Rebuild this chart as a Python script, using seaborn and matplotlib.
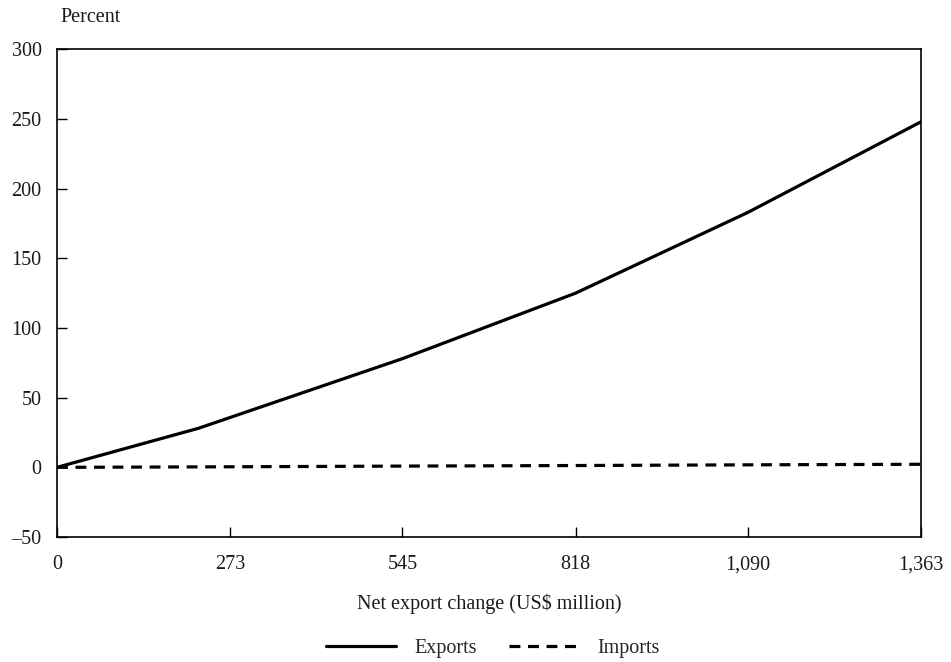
import matplotlib
matplotlib.use("Agg")
import matplotlib.pyplot as plt
import seaborn as sns
import pandas as pd
from matplotlib.lines import Line2D

sns.set_theme(style="white")
plt.rcParams['font.family'] = ['Liberation Serif', 'DejaVu Serif']

# Data
export_x = [0, 223, 545, 818, 1090, 1363]
export_y = [0, 28, 78, 125, 183, 248]
import_x = [0, 273, 545, 818, 1090, 1363]
import_y = [0, 0.4, 0.9, 1.3, 1.8, 2.2]
x_ticks = [0, 273, 545, 818, 1090, 1363]
x_ticklabels = ["0", "273", "545", "818", "1,090", "1,363"]
y_ticks = [-50, 0, 50, 100, 150, 200, 250, 300]
y_ticklabels = ["\u201350", "0", "50", "100", "150", "200", "250", "300"]

df = pd.concat([
    pd.DataFrame({"x": export_x, "y": export_y, "series": "Exports"}),
    pd.DataFrame({"x": import_x, "y": import_y, "series": "Imports"}),
])

fig = plt.figure(figsize=(9.51, 6.62), dpi=100)
ax = fig.add_axes([0.0599, 0.1888, 0.9086, 0.7367])

sns.lineplot(data=df, x="x", y="y", style="series", ax=ax, color="black",
             linewidth=2.3, dashes={"Exports": "", "Imports": (3.4, 2.4)},
             legend=False, sort=False)

ax.set_xlim(0, 1363)
ax.set_ylim(-50, 300)
ax.set_xticks(x_ticks)
ax.set_xticklabels(x_ticklabels)
ax.set_yticks(y_ticks)
ax.set_yticklabels(y_ticklabels)
ax.tick_params(axis="both", which="major", bottom=True, left=True, top=False, right=False,
               direction="in", length=7, width=1, color="black",
               labelsize=14.5, labelcolor="#1a1a1a")
ax.tick_params(axis="x", pad=13)
ax.tick_params(axis="y", pad=11)
for s in ax.spines.values():
    s.set_visible(True)
    s.set_color("black")
    s.set_linewidth(1.2)
ax.set_xlabel("Net export change (US$ million)", fontsize=14.5, labelpad=14, color="#1a1a1a")
ax.set_ylabel("")
ax.grid(False)

fig.text(60 / 951, 1 - 18 / 662, "Percent", fontsize=14.5, ha="left", va="center", color="#1a1a1a")

handles = [Line2D([], [], color="black", lw=2.3),
           Line2D([], [], color="black", lw=2.3, dashes=(3.4, 2.4))]
fig.legend(handles, ["Exports", "Imports"], loc="center", bbox_to_anchor=(493 / 951, 1 - 648 / 662),
           ncol=2, frameon=False, fontsize=14.5, handlelength=3.5, handletextpad=0.9,
           columnspacing=1.6)

fig.savefig("out.png", dpi=100)
